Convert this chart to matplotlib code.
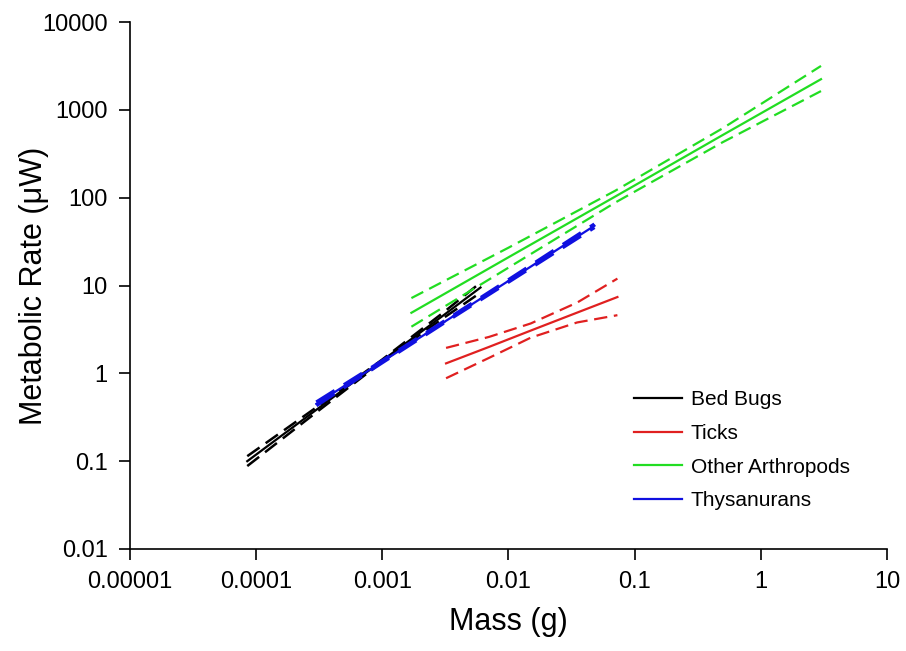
import matplotlib.pyplot as plt
import numpy as np

plt.rcParams['font.family'] = ['Liberation Sans', 'DejaVu Sans']

# Bed Bugs (black)
bb_x = [8.5e-5, 3e-4, 1e-3, 3e-3, 6e-3]
bb_fit = [0.1, 0.385, 1.4, 4.5, 9.5]
bb_lo = [0.088, 0.36, 1.36, 4.2, 8.3]
bb_hi = [0.114, 0.41, 1.44, 4.85, 10.8]

# Ticks (red)
tk_x = [0.0032, 0.007, 0.015, 0.035, 0.073]
tk_fit = [1.3, 2.0, 3.07, 4.92, 7.4]
tk_lo = [0.88, 1.5, 2.55, 3.8, 4.6]
tk_hi = [1.95, 2.6, 3.7, 6.4, 12.0]

# Other Arthropods (green)
oa_x = [0.0017, 0.01, 0.07, 0.5, 3.0]
oa_fit = [4.9, 21.0, 103.0, 519.0, 2240.0]
oa_lo = [3.4, 16.0, 88.0, 430.0, 1640.0]
oa_hi = [7.2, 27.0, 120.0, 620.0, 3170.0]

# Thysanurans (blue)
th_x = [3e-4, 1e-3, 3e-3, 0.01, 0.048]
th_fit = [0.45, 1.36, 3.74, 11.3, 48.0]
th_lo = [0.43, 1.33, 3.67, 11.0, 46.0]
th_hi = [0.47, 1.39, 3.81, 11.6, 50.0]

fig = plt.figure(figsize=(9.06, 6.51), dpi=100)
ax = fig.add_axes([0.1435, 0.1567, 0.8355, 0.8093])

groups = [
    ('Bed Bugs', 'black', bb_x, bb_fit, bb_lo, bb_hi, 1.8),
    ('Ticks', '#e02020', tk_x, tk_fit, tk_lo, tk_hi, 1.6),
    ('Other Arthropods', '#22dd22', oa_x, oa_fit, oa_lo, oa_hi, 1.6),
    ('Thysanurans', '#1010e0', th_x, th_fit, th_lo, th_hi, 2.6),
]
for name, col, x, fit, lo, hi, lw in groups:
    ax.plot(x, fit, color=col, lw=1.6, label=name)
    ax.plot(x, lo, color=col, lw=lw, ls=(0, (6, 3)))
    ax.plot(x, hi, color=col, lw=lw, ls=(0, (6, 3)))

ax.set_xscale('log')
ax.set_yscale('log')
ax.set_xlim(1e-5, 10)
ax.set_ylim(0.01, 10000)

xt = [1e-5, 1e-4, 1e-3, 1e-2, 1e-1, 1, 10]
xl = ['0.00001', '0.0001', '0.001', '0.01', '0.1', '1', '10']
yt = [0.01, 0.1, 1, 10, 100, 1000, 10000]
yl = ['0.01', '0.1', '1', '10', '100', '1000', '10000']
ax.set_xticks(xt)
ax.set_xticklabels(xl)
ax.set_yticks(yt)
ax.set_yticklabels(yl)
ax.minorticks_off()
ax.tick_params(direction='out', length=8, width=1.2, labelsize=17, pad=8)

for s in ['top', 'right']:
    ax.spines[s].set_visible(False)
for s in ['left', 'bottom']:
    ax.spines[s].set_linewidth(1.2)

ax.set_xlabel('Mass (g)', fontsize=22, labelpad=10)
ax.set_ylabel('Metabolic Rate (μW)', fontsize=22, va='center')
ax.yaxis.set_label_coords(-0.127, 0.5)

fig.legend(loc='upper left', bbox_to_anchor=(0.691, 0.413), frameon=False,
           borderaxespad=0, fontsize=15, handlelength=2.3,
           labelspacing=0.7, handletextpad=0.4)

fig.savefig('out.png', dpi=100)
